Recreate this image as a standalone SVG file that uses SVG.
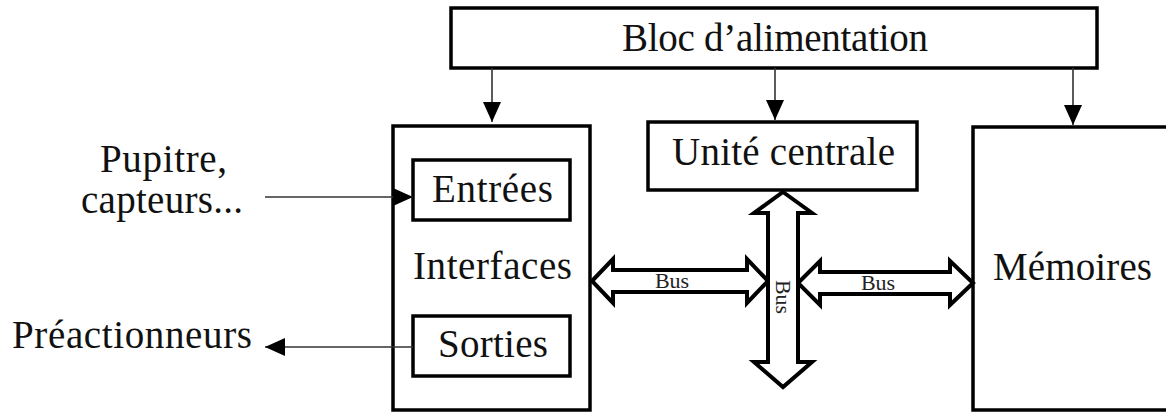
<svg xmlns="http://www.w3.org/2000/svg" width="1166" height="412" viewBox="0 0 1166 412">
<style>
.box{fill:#fff;stroke:#000;stroke-width:3.5}
.t{font-family:"Liberation Serif","DejaVu Serif",serif;font-size:39px;fill:#111}
.c{text-anchor:middle}
.bus{fill:#fff;stroke:#000;stroke-width:4;stroke-linejoin:miter}
.bl{font-family:"Liberation Serif","DejaVu Serif",serif;font-size:22px;fill:#222;text-anchor:middle}
.ln{fill:none;stroke:#333;stroke-width:1.6}
</style>
<defs>
<marker id="ah" markerUnits="userSpaceOnUse" markerWidth="20" markerHeight="18" refX="20" refY="9" orient="auto">
<path d="M0,0 L20,9 L0,18 Z" fill="#000"/>
</marker>
</defs>
<rect width="1166" height="412" fill="#fff"/>
<g id="alimentation">
<rect class="box" x="451" y="8" width="646" height="60"/>
<text class="t" x="622" y="51" textLength="306">Bloc d’alimentation</text>
</g>
<g id="interfaces">
<rect class="box" x="393" y="126" width="197" height="284"/>
<text class="t" x="413" y="279" textLength="159">Interfaces</text>
</g>
<g id="entrees">
<rect class="box" x="413" y="160" width="157" height="60"/>
<text class="t" x="432" y="202" textLength="121">Entrées</text>
</g>
<g id="sorties">
<rect class="box" x="413" y="316" width="157" height="60"/>
<text class="t" x="438" y="357" textLength="110">Sorties</text>
</g>
<g id="unite-centrale">
<rect class="box" x="648" y="122" width="269" height="68"/>
<text class="t" x="672" y="165" textLength="223">Unité centrale</text>
</g>
<g id="memoires">
<rect class="box" x="973" y="127" width="200" height="283"/>
<text class="t" x="993" y="280" textLength="159">Mémoires</text>
</g>
<g id="pupitre">
<text class="t" x="100" y="172" textLength="127">Pupitre,</text>
<text class="t" x="81" y="213" textLength="162">capteurs...</text>
</g>
<g id="preactionneurs">
<text class="t" x="12" y="348" textLength="240">Préactionneurs</text>
</g>
<g id="connectors">
<line class="ln" x1="492" y1="68" x2="492" y2="122" marker-end="url(#ah)"/>
<line class="ln" x1="775" y1="68" x2="775" y2="120" marker-end="url(#ah)"/>
<line class="ln" x1="1073" y1="68" x2="1073" y2="125" marker-end="url(#ah)"/>
<line class="ln" x1="265" y1="197" x2="413" y2="197" marker-end="url(#ah)"/>
<line class="ln" x1="413" y1="347" x2="265" y2="347" marker-end="url(#ah)"/>
<polygon class="bus" points="592,281 613,259 613,270 747,270 747,259 768,281 747,303 747,292 613,292 613,303"/>
<polygon class="bus" points="798,283 820,261 820,272 950,272 950,261 973,283 950,305 950,294 820,294 820,305"/>
<polygon class="bus" points="783,192 812,213 798,213 798,362 812,362 783,387 754,362 768,362 768,213 754,213"/>
<text class="bl" x="672" y="288">Bus</text>
<text class="bl" x="878" y="290">Bus</text>
<text class="bl" transform="translate(776,297) rotate(90)">Bus</text>
</g>
</svg>
